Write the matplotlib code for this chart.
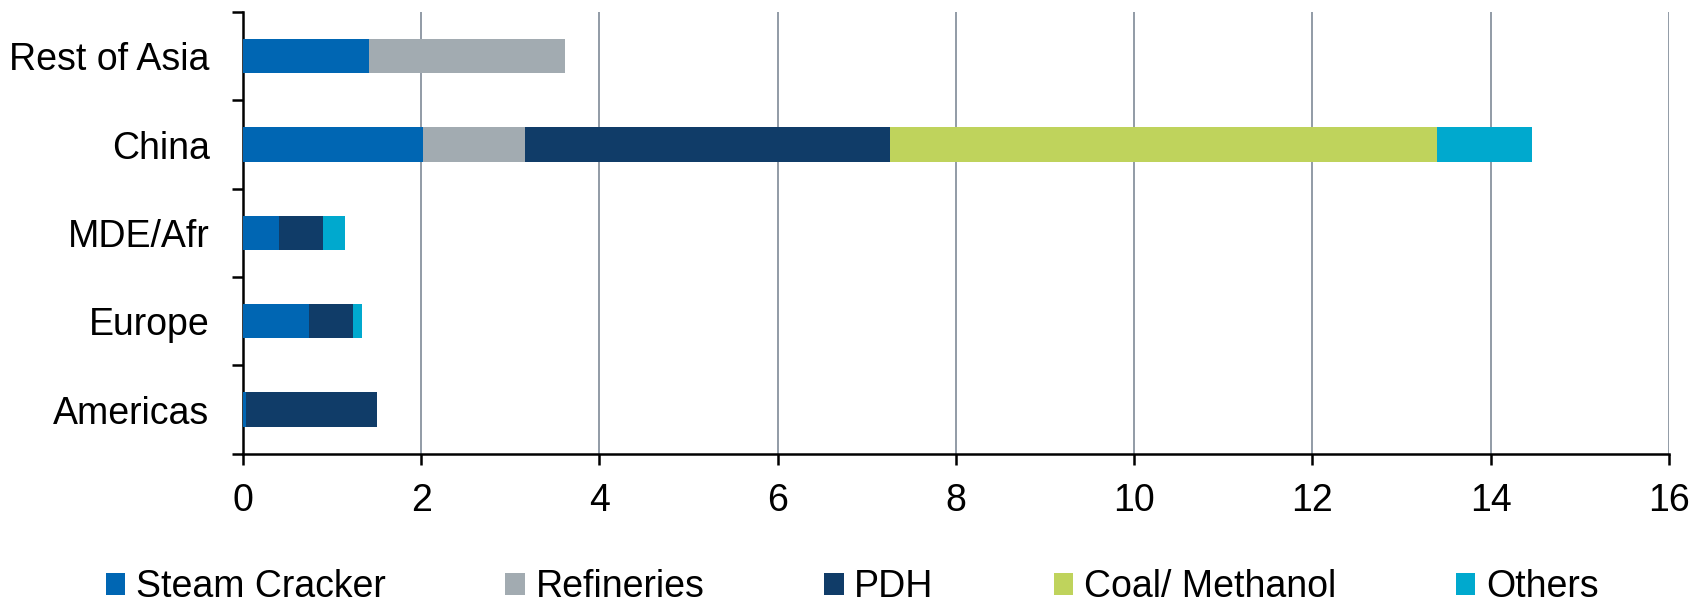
import matplotlib
matplotlib.use("Agg")
import matplotlib.pyplot as plt
from matplotlib.patches import Patch
import numpy as np

plt.rcParams["font.family"] = ["Liberation Sans", "DejaVu Sans"]

regions = ["Americas", "Europe", "MDE/Afr", "China", "Rest of Asia"]
series_names = ["Steam Cracker", "Refineries", "PDH", "Coal/ Methanol", "Others"]
steam_cracker = [0.03, 0.74, 0.40, 2.02, 1.42]
refineries = [0.00, 0.00, 0.00, 1.15, 2.19]
pdh = [1.48, 0.50, 0.50, 4.09, 0.00]
coal_methanol = [0.00, 0.00, 0.00, 6.14, 0.00]
others = [0.00, 0.10, 0.24, 1.06, 0.00]
colors = ["#0066B3", "#A2ABB1", "#103C68", "#BFD35C", "#00A9CE"]
x_ticks = [0, 2, 4, 6, 8, 10, 12, 14, 16]

FS = 27

fig = plt.figure(figsize=(16.94, 6.02), dpi=100)
ax = fig.add_axes([0.1434, 0.2463, 0.9852 - 0.1434, 0.980 - 0.2463])

y = np.arange(len(regions))
left = np.zeros(len(regions))
for name, vals, col in zip(series_names,
                           [steam_cracker, refineries, pdh, coal_methanol, others],
                           colors):
    ax.barh(y, vals, left=left, height=0.39, color=col, edgecolor="none", zorder=3)
    left += np.array(vals)

ax.set_xlim(0, 16)
ax.set_ylim(-0.5, len(regions) - 0.5)
ax.set_xticks(x_ticks)
ax.set_xticklabels([str(t) for t in x_ticks])
ax.xaxis.grid(True, color="#7F8A97", linewidth=1.2, zorder=0)
ax.set_axisbelow(True)

# category boundaries carry the tick marks, centres carry the labels
ax.set_yticks(np.arange(-0.5, len(regions), 1.0))
ax.set_yticklabels([])
ax.set_yticks(y, minor=True)
ax.set_yticklabels(regions, minor=True)
ax.tick_params(axis="y", which="major", length=8, width=1.8, direction="out")
ax.tick_params(axis="y", which="minor", length=0, pad=24, labelsize=FS)
ax.tick_params(axis="x", which="major", length=8, width=1.8, direction="out",
               pad=13, labelsize=FS)

for side in ["top", "right"]:
    ax.spines[side].set_visible(False)
for side in ["left", "bottom"]:
    ax.spines[side].set_linewidth(1.8)
    ax.spines[side].set_color("black")

handles = [Patch(facecolor=c, edgecolor="none") for c in colors]
fig.legend(handles, series_names, loc="center", bbox_to_anchor=(0.503, 0.025),
           ncol=5, frameon=False, fontsize=FS, handlelength=0.52,
           handleheight=0.52, handletextpad=0.28, columnspacing=3.2,
           borderaxespad=0)

fig.savefig("out.png", dpi=100)
